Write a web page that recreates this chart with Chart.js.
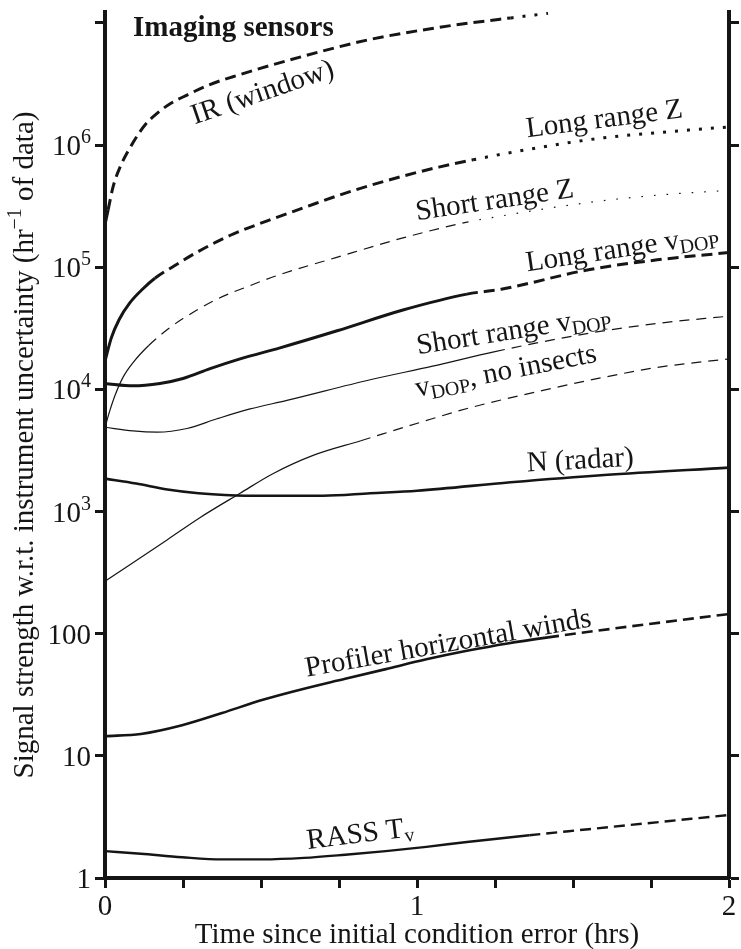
<!DOCTYPE html>
<html>
<head>
<meta charset="utf-8">
<script src="https://cdn.jsdelivr.net/npm/chart.js@4.4.1/dist/chart.umd.min.js"></script>
<style>
  html, body { margin: 0; padding: 0; background: #ffffff; }
  canvas { display: block; }
</style>
</head>
<body>
<canvas id="c" width="741" height="949" style="width:741px;height:949px"></canvas>
<script>
// ---------------- DATA ----------------
// time since initial condition error (hrs)  /  signal strength (hr^-1 of data)
const irTime   = [0, 0.01, 0.026, 0.05, 0.09, 0.13, 0.167, 0.21, 0.263, 0.33, 0.41, 0.625, 0.84, 1.06, 1.17, 1.30, 1.42];
const irValue  = [2.24e5, 2.95e5, 4.57e5, 6.76e5, 1.05e6, 1.48e6, 1.82e6, 2.19e6, 2.57e6, 3.09e6, 3.63e6, 5.25e6, 7.24e6, 9.12e6, 1.00e7, 1.10e7, 1.20e7];

const lrzTime  = [0, 0.02, 0.045, 0.08, 0.12, 0.16, 0.22, 0.30, 0.40, 0.52, 0.64, 0.75, 0.85, 0.96, 1.07, 1.18, 1.39, 1.60, 1.81, 2.0];
const lrzValue = [1.70e4, 2.63e4, 3.72e4, 5.13e4, 6.61e4, 8.13e4, 1.02e5, 1.35e5, 1.82e5, 2.40e5, 3.09e5, 3.89e5, 4.68e5, 5.62e5, 6.61e5, 7.59e5, 9.55e5, 1.15e6, 1.29e6, 1.41e6];

const srzTime  = [0, 0.016, 0.032, 0.058, 0.09, 0.14, 0.2, 0.25, 0.36, 0.465, 0.56, 0.74, 0.955, 1.16, 1.27, 1.55, 1.77, 2.0];
const srzValue = [4.90e3, 6.76e3, 8.91e3, 1.26e4, 1.66e4, 2.29e4, 3.09e4, 3.80e4, 5.50e4, 7.08e4, 8.71e4, 1.20e5, 1.74e5, 2.34e5, 2.63e5, 3.39e5, 3.89e5, 4.27e5];

const lrvTime  = [0, 0.09, 0.176, 0.25, 0.337, 0.433, 0.561, 0.744, 0.955, 1.16, 1.27, 1.55, 1.77, 2.0];
const lrvValue = [1.12e4, 1.07e4, 1.12e4, 1.23e4, 1.48e4, 1.78e4, 2.19e4, 3.02e4, 4.47e4, 6.03e4, 6.61e4, 9.55e4, 1.15e5, 1.32e5];

const srvTime  = [0, 0.09, 0.167, 0.263, 0.359, 0.465, 0.583, 0.85, 1.05, 1.25, 1.55, 1.77, 2.0];
const srvValue = [4.90e3, 4.57e3, 4.47e3, 4.79e3, 5.75e3, 6.92e3, 8.13e3, 1.20e4, 1.55e4, 2.04e4, 2.88e4, 3.47e4, 3.98e4];

const vniTime  = [0, 0.2, 0.304, 0.433, 0.538, 0.667, 0.82, 1.01, 1.17, 1.40, 1.60, 1.77, 2.0];
const vniValue = [269, 589, 891, 1413, 2042, 2884, 3802, 5370, 7079, 9772, 12589, 15136, 17783];

const nTime    = [0, 0.1, 0.2, 0.3, 0.45, 0.7, 0.85, 1.0, 1.3, 1.6, 2.0];
const nValue   = [1862, 1698, 1514, 1413, 1349, 1349, 1413, 1479, 1738, 1995, 2291];

const profTime  = [0, 0.115, 0.247, 0.375, 0.506, 0.638, 0.77, 0.9, 1.03, 1.16, 1.29, 1.42, 1.686, 2.0];
const profValue = [14.5, 15.1, 17.8, 22.4, 28.8, 35.5, 42.7, 51.3, 61.7, 72.4, 83.2, 93.3, 115, 145];

const rassTime  = [0, 0.115, 0.247, 0.375, 0.506, 0.638, 0.77, 0.9, 1.03, 1.16, 1.36, 1.55, 1.81, 2.0];
const rassValue = [1.66, 1.58, 1.48, 1.42, 1.42, 1.46, 1.55, 1.66, 1.80, 1.97, 2.24, 2.51, 2.93, 3.28];

// axis ticks
const yTickValues = [1, 10, 100, 1e3, 1e4, 1e5, 1e6, 1e7];
const yLabelExp   = [null, null, null, 3, 4, 5, 6, null];   // 10^n labels
const yLabelText  = ['1', '10', '100', '10', '10', '10', '10', ''];
const xTickValues = [0, 0.25, 0.5, 0.75, 1, 1.25, 1.5, 1.75, 2];
const xTickLabels = ['0', '', '', '', '1', '', '', '', '2'];
const xMin = 0, xMax = 2, yMin = 1, yMax = 1.23e7;

// ---------------- STYLES ----------------
const FONT = '"Liberation Serif", "Times New Roman", Times, serif';
const INK = '#151515';
const THICK = 3, THIN = 1.2;
const DASH_THICK = [11, 6], DASH_THIN = [10, 7];
const DOT_THICK = [3, 9], DOT_THIN = [1.6, 11];

function pts(t, v) { return t.map((x, i) => ({ x: x, y: v[i] })); }
function segStyle(dashFrom, dotFrom, dash, dot) {
  return {
    borderDash: ctx => {
      const t = ctx.p0.parsed.x;
      if (dotFrom !== null && t >= dotFrom - 1e-9) return dot;
      if (dashFrom !== null && t >= dashFrom - 1e-9) return dash;
      return [];
    }
  };
}
function ds(label, t, v, width, dashFrom, dotFrom, thick) {
  return {
    label: label,
    data: pts(t, v),
    borderColor: INK,
    borderWidth: width,
    pointRadius: 0,
    fill: false,
    cubicInterpolationMode: 'monotone',
    borderCapStyle: 'butt',
    segment: segStyle(dashFrom, dotFrom, thick ? DASH_THICK : DASH_THIN, thick ? DOT_THICK : DOT_THIN)
  };
}

const datasets = [
  ds('IR (window)', irTime, irValue, THICK, 0.01, 1.30, true),
  ds('Long range Z', lrzTime, lrzValue, THICK, 0.16, 1.18, true),
  ds('Short range Z', srzTime, srzValue, THIN, 0.14, 1.16, false),
  ds('Long range vDOP', lrvTime, lrvValue, THICK, 1.16, null, true),
  ds('Short range vDOP', srvTime, srvValue, THIN, 1.25, null, false),
  ds('vDOP, no insects', vniTime, vniValue, THIN, 0.82, null, false),
  ds('N (radar)', nTime, nValue, 2.6, null, null, true),
  ds('Profiler horizontal winds', profTime, profValue, 2.6, 1.42, null, true),
  ds('RASS Tv', rassTime, rassValue, 2.4, 1.36, null, true)
];

// curve labels: rich text parts [text, size, dy, bold], anchor (time, value) of baseline start, angle in degrees
const curveLabels = [
  { parts: [['Imaging sensors', 29, 0, true]], t: 0.09, v: 7.8e6, angle: 0 },
  { parts: [['IR (window)', 29, 0]], t: 0.288, v: 1.48e6, angle: -19 },
  { parts: [['Long range Z', 29, 0]], t: 1.353, v: 1.16e6, angle: -7.3 },
  { parts: [['Short range Z', 29, 0]], t: 1.0, v: 2.43e5, angle: -8.4 },
  { parts: [['Long range v', 29, 0], ['DOP', 20, 5]], t: 1.353, v: 9.27e4, angle: -8.5 },
  { parts: [['Short range v', 29, 0], ['DOP', 20, 5]], t: 1.003, v: 1.94e4, angle: -9 },
  { parts: [['v', 29, 0], ['DOP', 20, 5], [', no insects', 29, 0]], t: 1.0, v: 8.7e3, angle: -11 },
  { parts: [['N (radar)', 29, 0]], t: 1.353, v: 2130, angle: -3 },
  { parts: [['Profiler horizontal winds', 29, 0]], t: 0.647, v: 44.5, angle: -10 },
  { parts: [['RASS T', 29, 0], ['v', 20, 5]], t: 0.65, v: 1.73, angle: -7 }
];

// ---------------- TEXT HELPERS ----------------
function setFont(ctx, p) { ctx.font = (p[3] ? 'bold ' : '') + p[1] + 'px ' + FONT; }
function richWidth(ctx, parts) {
  let w = 0;
  for (const p of parts) { setFont(ctx, p); w += ctx.measureText(p[0]).width; }
  return w;
}
function drawRich(ctx, parts, x, y, angleDeg, align) {
  ctx.save();
  ctx.translate(x, y);
  ctx.rotate(angleDeg * Math.PI / 180);
  ctx.textBaseline = 'alphabetic';
  ctx.textAlign = 'left';
  ctx.fillStyle = INK;
  const w = richWidth(ctx, parts);
  let cx = align === 'center' ? -w / 2 : (align === 'right' ? -w : 0);
  for (const p of parts) {
    setFont(ctx, p);
    ctx.fillText(p[0], cx, p[2] || 0);
    cx += ctx.measureText(p[0]).width;
  }
  ctx.restore();
}

const textPlugin = {
  id: 'figureText',
  afterDraw(chart) {
    const ctx = chart.ctx;
    const xs = chart.scales.x, ys = chart.scales.y;
    const area = chart.chartArea;
    // y tick labels
    yTickValues.forEach((v, i) => {
      const txt = yLabelText[i];
      if (!txt) return;
      const py = ys.getPixelForValue(v);
      const parts = [[txt, 29, 0]];
      if (yLabelExp[i] !== null) parts.push([String(yLabelExp[i]), 20, -12]);
      drawRich(ctx, parts, 91, py + 10, 0, 'right');
    });
    // x tick labels
    xTickValues.forEach((v, i) => {
      if (!xTickLabels[i]) return;
      drawRich(ctx, [[xTickLabels[i], 29, 0]], xs.getPixelForValue(v), 915, 0, 'center');
    });
    // axis titles
    drawRich(ctx, [['Time since initial condition error (hrs)', 29, 0]], (area.left + area.right) / 2, 943, 0, 'center');
    drawRich(ctx, [['Signal strength w.r.t. instrument uncertainty (hr', 29, 0], ['\u22121', 20, -12], [' of data)', 29, 0]],
      33, (area.top + area.bottom) / 2, -90, 'center');
    // curve labels
    for (const L of curveLabels) {
      drawRich(ctx, L.parts, xs.getPixelForValue(L.t), ys.getPixelForValue(L.v), L.angle, 'left');
    }
  }
};

const axisGrid = { drawOnChartArea: false, drawTicks: true, tickLength: 10, tickWidth: 3, color: INK };
const axisBorder = { display: true, width: 4, color: INK };

new Chart(document.getElementById('c'), {
  type: 'line',
  data: { datasets: datasets },
  options: {
    responsive: false,
    animation: false,
    events: [],
    layout: { padding: { top: 12, left: 0, right: 0, bottom: 0 } },
    plugins: { legend: { display: false }, tooltip: { enabled: false }, title: { display: false } },
    scales: {
      x: {
        type: 'linear', position: 'bottom', min: xMin, max: xMax,
        afterFit: s => { s.height = 71; },
        afterBuildTicks: s => { s.ticks = xTickValues.map(v => ({ value: v })); },
        ticks: { display: false, autoSkip: false },
        grid: axisGrid, border: axisBorder
      },
      y: {
        type: 'logarithmic', position: 'left', min: yMin, max: yMax,
        afterFit: s => { s.width = 105; },
        afterBuildTicks: s => { s.ticks = yTickValues.map(v => ({ value: v })); },
        ticks: { display: false, autoSkip: false },
        grid: axisGrid, border: axisBorder
      },
      y2: {
        type: 'logarithmic', position: 'right', min: yMin, max: yMax,
        afterFit: s => { s.width = 12; },
        afterBuildTicks: s => { s.ticks = yTickValues.map(v => ({ value: v })); },
        ticks: { display: false, autoSkip: false },
        grid: axisGrid, border: axisBorder
      }
    }
  },
  plugins: [textPlugin]
});
</script>
</body>
</html>
